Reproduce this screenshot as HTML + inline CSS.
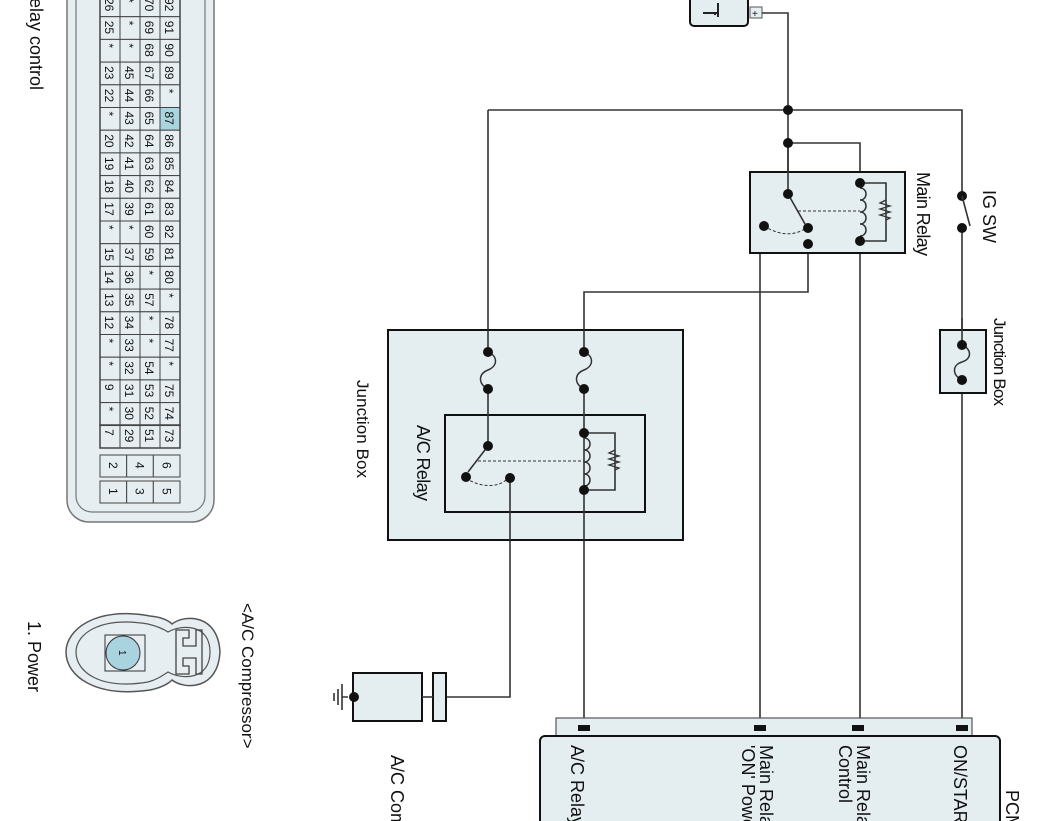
<!DOCTYPE html>
<html><head><meta charset="utf-8"><style>
html,body{margin:0;padding:0;background:#fff;width:1062px;height:821px;overflow:hidden}
svg{display:block;overflow:hidden}
text{font-family:"Liberation Sans",Arial,sans-serif;fill:#111}
.w{stroke:#333;stroke-width:1.6;fill:none}
.box{fill:#e4eef1;stroke:#111;stroke-width:2}
.g text{font-size:12px}
</style></head><body>
<svg width="1062" height="821" viewBox="0 0 1062 821" xmlns="http://www.w3.org/2000/svg">
<rect x="67" y="-30" width="147" height="552" rx="22" fill="#e6eef1" stroke="#777" stroke-width="1.5"/>
<rect x="76" y="-30" width="129" height="542" rx="16" fill="#e6eef1" stroke="#777" stroke-width="1.2"/>
<g id="grid" class="g" stroke="#444" stroke-width="1"></g>
<text transform="translate(30,-2) rotate(90)" font-size="18">elay control</text>

<path d="M150,616 C95,606 66,630 66,652 C66,676 95,698 150,690 C160,688 168,684 172,680 C185,690 218,690 220,652 C218,614 185,614 172,624 C168,620 160,617 150,616Z" fill="#e6eef1" stroke="#555" stroke-width="1.5"/>
<path d="M148,624 C100,616 76,634 76,652 C76,672 100,690 148,682 C156,680 162,676 168,672 C182,680 210,680 210,652 C210,624 182,624 168,632 C162,628 156,626 148,624Z" fill="#e6eef1" stroke="#555" stroke-width="1.2"/>
<rect x="105" y="635" width="40" height="36" fill="#e6eef1" stroke="#333"/>
<circle cx="123" cy="653" r="17" fill="#a8d3df" stroke="#333"/>
<text transform="translate(119,650) rotate(90)" font-size="10">1</text>
<path d="M176,630 h13 v8 h-6 v8 h13 v-16 h6 v44 h-6 v-16 h-13 v8 h6 v8 h-13z" fill="none" stroke="#444" stroke-width="1.3"/>
<text transform="translate(242,603) rotate(90)" font-size="17">&lt;A/C Compressor&gt;</text>
<text transform="translate(28,621) rotate(90)" font-size="18">1. Power</text>

<rect x="690" y="-12" width="58" height="38" rx="4" class="box" stroke-width="1.5"/>
<path d="M703,13 h15 M718,3 v14" stroke="#222" stroke-width="2"/>
<circle cx="715" cy="14" r="1.2" fill="#222"/>
<rect x="750" y="7" width="12" height="11" fill="#e4eef1" stroke="#555"/>
<text x="752" y="17" font-size="10">+</text>

<path class="w" d="M762,13 H788 V194"/>
<path class="w" d="M488,110 H962 V196"/>
<path class="w" d="M488,110 V352"/>
<path class="w" d="M788,143 H860 V183"/>
<path class="w" d="M962,228 V728"/>
<path class="w" d="M760,728 V244 H808"/>
<path class="w" d="M808,228 V292 H584 V352"/>
<path class="w" d="M860,241 V728"/>
<path class="w" d="M584,389 V728"/>
<path class="w" d="M488,389 V446"/>
<path class="w" d="M510,478 V697 H446"/>

<rect x="750" y="172" width="155" height="81" class="box"/>
<path class="w" d="M788,143 V194"/>
<path class="w" d="M860,183 H886 V241 H860"/>
<path d="M886,200 l-6,3 l10,3 l-10,3 l10,3 l-10,3 l10,3 l-4,2" fill="none" stroke="#333" stroke-width="1.3"/>
<path d="M860,188 c8,0 8,12 0,12 c8,0 8,12 0,12 c8,0 8,12 0,12 c8,0 8,12 0,12" fill="none" stroke="#333" stroke-width="1.5"/>
<path d="M788,194 L805,224" stroke="#333" stroke-width="1.6"/>
<path d="M798,211 H860" stroke="#333" stroke-width="1" stroke-dasharray="3,2"/>
<path d="M764,226 C780,236 795,236 806,228" fill="none" stroke="#333" stroke-width="1" stroke-dasharray="3,2"/>
<g fill="#111">
<circle cx="788" cy="110" r="5"/><circle cx="788" cy="143" r="5"/>
<circle cx="788" cy="194" r="5"/><circle cx="808" cy="228" r="5"/><circle cx="808" cy="244" r="5"/><circle cx="764" cy="226" r="5"/>
<circle cx="860" cy="183" r="5"/><circle cx="860" cy="241" r="5"/>
<circle cx="962" cy="196" r="5"/><circle cx="962" cy="228" r="5"/>
</g>
<path d="M962,196 L970,226" stroke="#333" stroke-width="1.6"/>
<text transform="translate(917,172) rotate(90)" font-size="18" textLength="84">Main Relay</text>
<text transform="translate(983,190) rotate(90)" font-size="18">IG SW</text>

<rect x="940" y="330" width="46" height="63" class="box"/>
<path class="w" d="M962,318 V345"/>
<path d="M962,345 c10,4 10,14 0,17 c-10,3 -10,13 0,18" fill="none" stroke="#333" stroke-width="1.5"/>
<circle cx="962" cy="345" r="5" fill="#111"/><circle cx="962" cy="380" r="5" fill="#111"/>
<text transform="translate(994,318) rotate(90)" font-size="17" textLength="88">Junction Box</text>

<rect x="388" y="330" width="295" height="210" class="box"/>
<rect x="445" y="415" width="200" height="97" class="box"/>
<path class="w" d="M488,330 V352 M584,330 V352"/>
<path d="M488,352 c10,4 10,14 0,18 c-10,4 -10,14 0,19" fill="none" stroke="#333" stroke-width="1.5"/>
<path d="M584,352 c10,4 10,14 0,18 c-10,4 -10,14 0,19" fill="none" stroke="#333" stroke-width="1.5"/>
<path class="w" d="M584,389 V490 M584,433 H615 V490 H584 M488,389 V446 M510,478 V540 M584,490 V540"/>
<path d="M615,450 l-6,3 l10,3 l-10,3 l10,3 l-10,3 l10,3 l-4,2" fill="none" stroke="#333" stroke-width="1.3"/>
<path d="M584,438 c8,0 8,12 0,12 c8,0 8,12 0,12 c8,0 8,12 0,12 c8,0 8,12 0,12" fill="none" stroke="#333" stroke-width="1.5"/>
<path d="M488,446 L468,472" stroke="#333" stroke-width="1.6"/>
<path d="M478,461 H584" stroke="#333" stroke-width="1" stroke-dasharray="3,2"/>
<path d="M466,478 C480,488 500,488 508,478" fill="none" stroke="#333" stroke-width="1" stroke-dasharray="3,2"/>
<g fill="#111">
<circle cx="488" cy="352" r="5"/><circle cx="488" cy="389" r="5"/><circle cx="584" cy="352" r="5"/><circle cx="584" cy="389" r="5"/>
<circle cx="488" cy="446" r="5"/><circle cx="466" cy="477" r="5"/><circle cx="510" cy="478" r="5"/>
<circle cx="584" cy="433" r="5"/><circle cx="584" cy="490" r="5"/>
</g>
<text transform="translate(417,425) rotate(90)" font-size="18" textLength="76">A/C Relay</text>
<text transform="translate(357,380) rotate(90)" font-size="17" textLength="98">Junction Box</text>

<rect x="433" y="673" width="13" height="48" class="box"/>
<rect x="353" y="673" width="69" height="48" class="box"/>
<path class="w" d="M422,697 H433"/>
<circle cx="354" cy="697" r="5" fill="#111"/>
<path d="M348,697 H342 M342,684 V710 M338,689 V705 M334,693 V701" stroke="#333" stroke-width="1.6"/>
<text transform="translate(391,755) rotate(90)" font-size="18">A/C Compressor</text>

<rect x="556" y="718" width="416" height="30" fill="#e4eef1" stroke="#555" stroke-width="1.2"/>
<rect x="540" y="736" width="460" height="100" rx="5" class="box"/>
<g fill="#111">
<rect x="578" y="725" width="12" height="6"/><rect x="754" y="725" width="12" height="6"/>
<rect x="852" y="725" width="12" height="6"/><rect x="956" y="725" width="12" height="6"/>
</g>
<text transform="translate(571,745) rotate(90)" font-size="18">A/C Relay</text>
<text transform="translate(760,745) rotate(90)" font-size="18">Main Relay</text>
<text transform="translate(742,745) rotate(90)" font-size="18">'ON' Power</text>
<text transform="translate(857,745) rotate(90)" font-size="18">Main Relay</text>
<text transform="translate(839,745) rotate(90)" font-size="18">Control</text>
<text transform="translate(954,745) rotate(90)" font-size="18">ON/START</text>
<text transform="translate(1006,790) rotate(90)" font-size="18">PCM</text>
</svg>
<script>
(function(){
var cols=[
["26","25","*","23","22","*","20","19","18","17","*","15","14","13","12","*","*","9","*"],
["*","*","*","45","44","43","42","41","40","39","*","37","36","35","34","33","32","31","30"],
["70","69","68","67","66","65","64","63","62","61","60","59","*","57","*","*","54","53","52"],
["92","91","90","89","*","87","86","85","84","83","82","81","80","*","78","77","*","75","74"]];
var last=["7","29","51","73"];
var g=document.getElementById('grid'),s="";
var p=22.7,y0=-6;
for(var c=0;c<4;c++){var x=100+c*20;
 for(var r=0;r<19;r++){var y=y0+r*p;var f=(cols[c][r]=="87")?"#a9d5e0":"#e6eef1";
  s+='<rect x="'+x+'" y="'+y+'" width="20" height="'+p+'" fill="'+f+'"/>';
  s+='<text stroke="none" transform="translate('+(x+5)+','+(y+4)+') rotate(90)">'+cols[c][r]+'</text>';}
 s+='<rect x="'+x+'" y="425" width="20" height="23" fill="#e6eef1"/>';
 s+='<text stroke="none" transform="translate('+(x+5)+',429) rotate(90)">'+last[c]+'</text>';}
s+='<rect x="100" y="-6" width="80" height="'+(19*p)+'" fill="none" stroke-width="1.5"/>';
s+='<rect x="100" y="425" width="80" height="23" fill="none" stroke-width="1.5"/>';
var a=["2","4","6"],b=["1","3","5"];
for(var i=0;i<3;i++){var x=100+i*26.67;
 s+='<rect x="'+x+'" y="455" width="26.67" height="22" fill="#e6eef1"/><text stroke="none" transform="translate('+(x+9)+',462) rotate(90)">'+a[i]+'</text>';
 s+='<rect x="'+x+'" y="481" width="26.67" height="22" fill="#e6eef1"/><text stroke="none" transform="translate('+(x+9)+',488) rotate(90)">'+b[i]+'</text>';}
g.innerHTML=s;})();
</script>
</body></html>
